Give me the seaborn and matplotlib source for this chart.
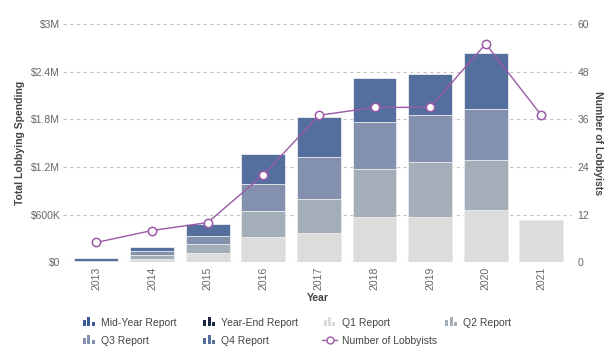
import matplotlib
matplotlib.use("Agg")
import matplotlib.pyplot as plt
from matplotlib.patches import Rectangle
from matplotlib.legend_handler import HandlerBase
from matplotlib.lines import Line2D
from matplotlib.ticker import FixedLocator
import numpy as np
import pandas as pd
import seaborn as sns

years = ["2013", "2014", "2015", "2016", "2017", "2018", "2019", "2020", "2021"]
q1 = [0, 45000, 113000, 319000, 366000, 575000, 575000, 660000, 533000]
q2 = [0, 50000, 113000, 324000, 437000, 597000, 685000, 630000, 0]
q3 = [22000, 45000, 105000, 340000, 521000, 588000, 597000, 639000, 0]
q4 = [32000, 57000, 147000, 382000, 504000, 555000, 508000, 706000, 0]
lobbyists = [5, 8, 10, 22, 37, 39, 39, 55, 37]

left_ticks = [0, 600000, 1200000, 1800000, 2400000, 3000000]
left_labels = ["$0", "$600K", "$1.2M", "$1.8M", "$2.4M", "$3M"]
right_ticks = [0, 12, 24, 36, 48, 60]

series_names = ["Mid-Year Report", "Year-End Report", "Q1 Report", "Q2 Report",
                "Q3 Report", "Q4 Report", "Number of Lobbyists"]
colors = {
    "Mid-Year Report": "#3c5a99",
    "Year-End Report": "#1b2744",
    "Q1 Report": "#dcdcdc",
    "Q2 Report": "#a3aeb9",
    "Q3 Report": "#8491ae",
    "Q4 Report": "#546f9d",
    "Number of Lobbyists": "#9b59a8",
}

sns.set_theme(style="white")
plt.rcParams["font.family"] = ["Liberation Sans", "DejaVu Sans"]

fig = plt.figure(figsize=(6.14, 3.57), dpi=100)
ax = fig.add_axes([0.1026, 0.2653, 0.8290, 0.6675])

df = pd.DataFrame({"Year": years, "Q1": q1, "Q2": q2, "Q3": q3, "Q4": q4})
cum = df[["Q1", "Q2", "Q3", "Q4"]].cumsum(axis=1)
layers = [("Q4", "Q4 Report"), ("Q3", "Q3 Report"), ("Q2", "Q2 Report"), ("Q1", "Q1 Report")]
for col, name in layers:
    sns.barplot(x=df["Year"], y=cum[col], ax=ax, color=colors[name], width=0.79,
                saturation=1, edgecolor="#eeeeee", linewidth=0.6, errorbar=None)

ax.set_ylim(0, 3000000)
ax.yaxis.set_major_locator(FixedLocator(left_ticks))
ax.set_yticklabels(left_labels)
ax.set_xlabel("Year", fontsize=7.5, fontweight="bold", color="#444444", labelpad=2)
ax.set_ylabel("Total Lobbying Spending", fontsize=7.5, fontweight="bold", color="#444444", labelpad=4)
ax.tick_params(axis="x", labelrotation=90, labelsize=7.5, colors="#666666", length=0, pad=3)
ax.tick_params(axis="y", labelsize=7.5, colors="#666666", length=0, pad=2)
ax.grid(axis="y", color="#c4c4c4", linestyle=(0, (3, 3)), linewidth=0.8)
ax.set_axisbelow(True)
for s in ax.spines.values():
    s.set_visible(False)

ax2 = ax.twinx()
sns.pointplot(x=df["Year"], y=lobbyists, ax=ax2, color=colors["Number of Lobbyists"],
              markers="o", linewidth=1, markersize=6, markerfacecolor="white",
              markeredgewidth=1.1, errorbar=None)
ax2.set_ylim(0, 60)
ax2.yaxis.set_major_locator(FixedLocator(right_ticks))
ax2.set_ylabel("Number of Lobbyists", fontsize=7.5, fontweight="bold", color="#444444",
               rotation=270, labelpad=10)
ax2.tick_params(axis="y", labelsize=7.5, colors="#666666", length=0, pad=4)
for s in ax2.spines.values():
    s.set_visible(False)
ax2.grid(False)
ax.set_xlim(-0.6, 8.55)
ax2.set_xlim(-0.6, 8.55)
ax2.set_xlabel("")


class BarIconHandler(HandlerBase):
    def create_artists(self, legend, orig_handle, xdescent, ydescent, width, height, fontsize, trans):
        c = orig_handle.get_facecolor()
        arts = []
        w = width * 0.2
        heights = [0.85, 1.2, 0.5]
        x0 = width * 0.12 - xdescent
        for i, h in enumerate(heights):
            r = Rectangle((x0 + i * w * 1.4, -ydescent - height * 0.05), w, height * h,
                          facecolor=c, edgecolor="none", transform=trans)
            arts.append(r)
        return arts


handle_map = {}
for name in series_names[:-1]:
    handle_map[name] = Rectangle((0, 0), 1, 1, facecolor=colors[name])
handle_map["Number of Lobbyists"] = Line2D([], [], color=colors["Number of Lobbyists"], linewidth=1,
                                           marker="o", markersize=5, markerfacecolor="white",
                                           markeredgewidth=1)

columns = [["Mid-Year Report", "Q3 Report"], ["Year-End Report", "Q4 Report"],
           ["Q1 Report", "Number of Lobbyists"], ["Q2 Report"]]
col_x = [0.132, 0.328, 0.524, 0.722]
for cx, names in zip(col_x, columns):
    hs = [handle_map[n] for n in names]
    hm = {h: BarIconHandler() for h in hs if isinstance(h, Rectangle)}
    leg = fig.legend(hs, names, handler_map=hm, loc="upper left",
                     bbox_to_anchor=(cx, 0.110), ncol=1, frameon=False, fontsize=7.5,
                     handlelength=1.5, handletextpad=0.4, labelspacing=0.75,
                     borderpad=0, borderaxespad=0)
    for t in leg.get_texts():
        t.set_color("#444444")

fig.savefig("out.png", dpi=100)
